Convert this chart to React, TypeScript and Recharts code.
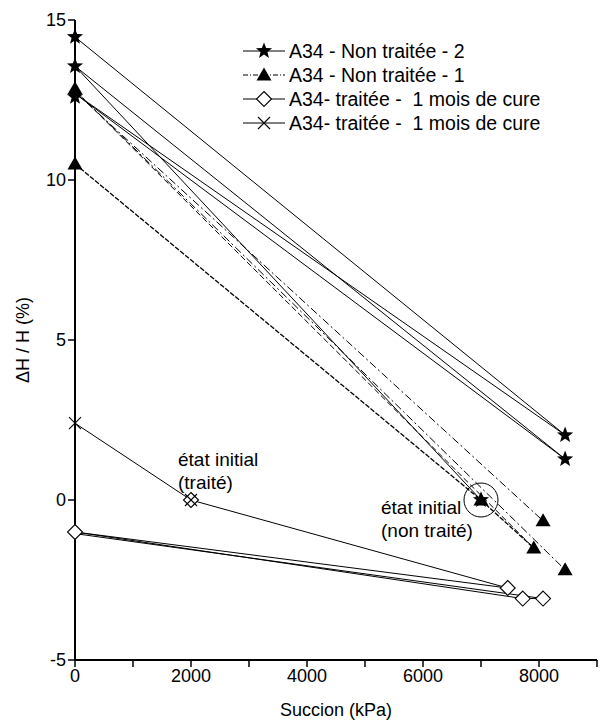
import React from 'react';
import { ComposedChart, Scatter, XAxis, YAxis, Legend, ReferenceDot } from 'recharts';

type P = { x: number; y: number };

// ---- axis ticks ----
const xTicks = [0, 1000, 2000, 3000, 4000, 5000, 6000, 7000, 8000, 9000];
const xLabelTicks = [0, 2000, 4000, 6000, 8000];
const yTicks = [-5, 0, 5, 10, 15];

// ---- markers ----
const starPoints: P[] = [
  { x: 0, y: 14.47 }, { x: 0, y: 13.56 }, { x: 0, y: 12.6 },
  { x: 7000, y: 0 }, { x: 8450, y: 2.03 }, { x: 8450, y: 1.28 },
];
const trianglePoints: P[] = [
  { x: 0, y: 12.85 }, { x: 0, y: 10.5 }, { x: 7000, y: 0 },
  { x: 8070, y: -0.65 }, { x: 7910, y: -1.5 }, { x: 8450, y: -2.18 },
];
const diamondPoints: P[] = [
  { x: 0, y: -1.0 }, { x: 2000, y: 0 }, { x: 7460, y: -2.75 },
  { x: 7720, y: -3.08 }, { x: 8070, y: -3.08 },
];
const crossPoints: P[] = [{ x: 0, y: 2.4 }, { x: 2000, y: 0 }];

// ---- line paths ----
const starPath1: P[] = [{ x: 0, y: 14.47 }, { x: 8450, y: 2.03 }];
const starPath2: P[] = [{ x: 0, y: 13.56 }, { x: 8450, y: 1.28 }];
const starPath3: P[] = [{ x: 0, y: 12.7 }, { x: 8450, y: 2.03 }];
const starPath4: P[] = [{ x: 0, y: 12.7 }, { x: 8450, y: 1.28 }];
const starPath5: P[] = [{ x: 0, y: 13.56 }, { x: 7000, y: 0 }];
const triPath1: P[] = [{ x: 0, y: 12.75 }, { x: 8070, y: -0.65 }];
const triPath2: P[] = [{ x: 0, y: 12.8 }, { x: 7910, y: -1.5 }];
const triPath3: P[] = [{ x: 0, y: 12.8 }, { x: 8450, y: -2.18 }];
const triPath4: P[] = [{ x: 0, y: 10.5 }, { x: 7000, y: 0 }, { x: 7910, y: -1.5 }];
const diaPath1: P[] = [{ x: 0, y: -1.0 }, { x: 7460, y: -2.75 }];
const diaPath2: P[] = [{ x: 0, y: -1.0 }, { x: 7720, y: -3.08 }, { x: 8070, y: -3.08 }];
const diaPath3: P[] = [{ x: 0, y: -1.05 }, { x: 8070, y: -3.08 }];
const crossPath1: P[] = [{ x: 0, y: 2.4 }, { x: 2000, y: 0 }, { x: 7460, y: -2.75 }];

const legendLabels = [
  'A34 - Non traitée - 2',
  'A34 - Non traitée - 1',
  'A34- traitée -  1 mois de cure',
  'A34- traitée -  1 mois de cure',
];
const legendKinds = ['star', 'triangle', 'diamond', 'cross'];
const legendDashes = [undefined, '5 2 1 2', undefined, undefined];

const FONT = '"Liberation Sans", Arial, Helvetica, sans-serif';

const starPolygon = (cx: number, cy: number, R: number, r: number) => {
  const pts: string[] = [];
  for (let i = 0; i < 10; i++) {
    const rad = i % 2 === 0 ? R : r;
    const a = -Math.PI / 2 + (i * Math.PI) / 5;
    pts.push(`${cx + rad * Math.cos(a)},${cy + rad * Math.sin(a)}`);
  }
  return pts.join(' ');
};

const Marker = ({ kind, cx, cy }: { kind: string; cx: number; cy: number }) => {
  if (kind === 'star') return <polygon points={starPolygon(cx, cy, 8.5, 3.6)} fill="#000" />;
  if (kind === 'triangle')
    return <polygon points={`${cx},${cy - 7.5} ${cx - 7.5},${cy + 5.5} ${cx + 7.5},${cy + 5.5}`} fill="#000" />;
  if (kind === 'diamond')
    return (
      <polygon
        points={`${cx},${cy - 7.5} ${cx + 7.5},${cy} ${cx},${cy + 7.5} ${cx - 7.5},${cy}`}
        fill="#fff"
        stroke="#000"
        strokeWidth={1.1}
      />
    );
  return (
    <g stroke="#000" strokeWidth={1.1}>
      <line x1={cx - 6} y1={cy - 6} x2={cx + 6} y2={cy + 6} />
      <line x1={cx - 6} y1={cy + 6} x2={cx + 6} y2={cy - 6} />
    </g>
  );
};

const shapeOf = (kind: string) => (props: any) => <Marker kind={kind} cx={props.cx} cy={props.cy} />;
const noShape = () => <g />;

const lineStyle = (dash?: string) => ({ stroke: '#000', strokeWidth: 1, strokeDasharray: dash });

const LegendContent = () => (
  <div style={{ fontFamily: FONT, fontSize: 19.5, color: '#000' }}>
    {legendLabels.map((lab, i) => (
      <div key={i} style={{ display: 'flex', alignItems: 'center', height: 24, whiteSpace: 'pre' }}>
        <svg width={46} height={20} style={{ display: 'block' }}>
          <line x1={2} y1={10} x2={44} y2={10} stroke="#000" strokeWidth={1} strokeDasharray={legendDashes[i]} />
          <Marker kind={legendKinds[i]} cx={23} cy={10} />
        </svg>
        <span style={{ marginLeft: 2 }}>{lab}</span>
      </div>
    ))}
  </div>
);

export default function App() {
  return (
    <div style={{ position: 'absolute', left: 0, top: 0, width: 600, height: 722, background: '#fff' }}>
      <ComposedChart
        width={600}
        height={722}
        margin={{ top: 20, right: 3, bottom: 0, left: 0 }}
        style={{ fontFamily: FONT }}
      >
        <XAxis
          dataKey="x"
          type="number"
          domain={[0, 9000]}
          ticks={xTicks}
          height={62}
          tickSize={7}
          tickLine={{ stroke: '#000', strokeWidth: 1.5 }}
          axisLine={{ stroke: '#000', strokeWidth: 2 }}
          tick={{ fontSize: 18, fill: '#000', fontFamily: FONT }}
          tickFormatter={(v: number) => (xLabelTicks.includes(v) ? String(v) : '')}
          label={(p: any) => {
            const vb = p.viewBox || {};
            return (
              <text x={vb.x + vb.width / 2} y={vb.y + 56} textAnchor="middle" fontSize={18} fill="#000" fontFamily={FONT}>
                Succion (kPa)
              </text>
            );
          }}
        />
        <XAxis xAxisId="top" orientation="top" type="number" domain={[0, 9000]} height={0} tick={false} tickLine={false} axisLine={{ stroke: '#000', strokeWidth: 2 }} />
        <YAxis
          dataKey="y"
          type="number"
          domain={[-5, 15]}
          ticks={yTicks}
          width={75}
          tickSize={7}
          tickLine={{ stroke: '#000', strokeWidth: 1.5 }}
          axisLine={{ stroke: '#000', strokeWidth: 2 }}
          tick={{ fontSize: 18, fill: '#000', fontFamily: FONT }}
          label={(p: any) => {
            const vb = p.viewBox || {};
            const cx = vb.x + 23;
            const cy = vb.y + vb.height / 2;
            return (
              <text x={cx} y={cy} transform={`rotate(-90 ${cx} ${cy})`} textAnchor="middle" dominantBaseline="central" fontSize={18} fill="#000" fontFamily={FONT}>
                ΔH / H (%)
              </text>
            );
          }}
        />
        <YAxis yAxisId="right" orientation="right" type="number" domain={[-5, 15]} width={0} tick={false} tickLine={false} axisLine={{ stroke: '#000', strokeWidth: 2 }} />

        <Scatter data={starPath1} line={lineStyle()} shape={noShape} isAnimationActive={false} />
        <Scatter data={starPath2} line={lineStyle()} shape={noShape} isAnimationActive={false} />
        <Scatter data={starPath3} line={lineStyle()} shape={noShape} isAnimationActive={false} />
        <Scatter data={starPath4} line={lineStyle()} shape={noShape} isAnimationActive={false} />
        <Scatter data={starPath5} line={lineStyle()} shape={noShape} isAnimationActive={false} />
        <Scatter data={triPath1} line={lineStyle('8 3 2 3')} shape={noShape} isAnimationActive={false} />
        <Scatter data={triPath2} line={lineStyle('6 3')} shape={noShape} isAnimationActive={false} />
        <Scatter data={triPath3} line={lineStyle('8 3 2 3')} shape={noShape} isAnimationActive={false} />
        <Scatter data={triPath4} line={{ stroke: '#000', strokeWidth: 1.3, strokeDasharray: '5 1.5' }} shape={noShape} isAnimationActive={false} />
        <Scatter data={diaPath1} line={lineStyle()} shape={noShape} isAnimationActive={false} />
        <Scatter data={diaPath2} line={lineStyle()} shape={noShape} isAnimationActive={false} />
        <Scatter data={diaPath3} line={lineStyle()} shape={noShape} isAnimationActive={false} />
        <Scatter data={crossPath1} line={lineStyle()} shape={noShape} isAnimationActive={false} />

        <Scatter data={diamondPoints} shape={shapeOf('diamond')} isAnimationActive={false} />
        <Scatter data={crossPoints} shape={shapeOf('cross')} isAnimationActive={false} />
        <Scatter data={trianglePoints} shape={shapeOf('triangle')} isAnimationActive={false} />
        <Scatter data={starPoints} shape={shapeOf('star')} isAnimationActive={false} />

        <ReferenceDot
          x={7000}
          y={0}
          r={17}
          fill="none"
          stroke="#000"
          strokeWidth={1}
          ifOverflow="visible"
          label={(p: any) => {
            const vb = p.viewBox || {};
            const cx = vb.x + (vb.width || 0) / 2;
            const cy = vb.y + (vb.height || 0) / 2;
            return (
              <text fontSize={19} fill="#000" fontFamily={FONT}>
                <tspan x={cx - 100} y={cy + 14}>état initial</tspan>
                <tspan x={cx - 100} y={cy + 37}>(non traité)</tspan>
              </text>
            );
          }}
        />
        <ReferenceDot
          x={2000}
          y={0}
          r={1}
          fill="none"
          stroke="none"
          ifOverflow="visible"
          label={(p: any) => {
            const vb = p.viewBox || {};
            const cx = vb.x + (vb.width || 0) / 2;
            const cy = vb.y + (vb.height || 0) / 2;
            return (
              <text fontSize={19} fill="#000" fontFamily={FONT}>
                <tspan x={cx - 13} y={cy - 34}>état initial</tspan>
                <tspan x={cx - 13} y={cy - 11}>(traité)</tspan>
              </text>
            );
          }}
        />

        <Legend
          layout="vertical"
          align="center"
          verticalAlign="middle"
          wrapperStyle={{ position: 'absolute', left: 241, top: 39, width: 355 }}
          content={LegendContent}
        />
      </ComposedChart>
    </div>
  );
}
